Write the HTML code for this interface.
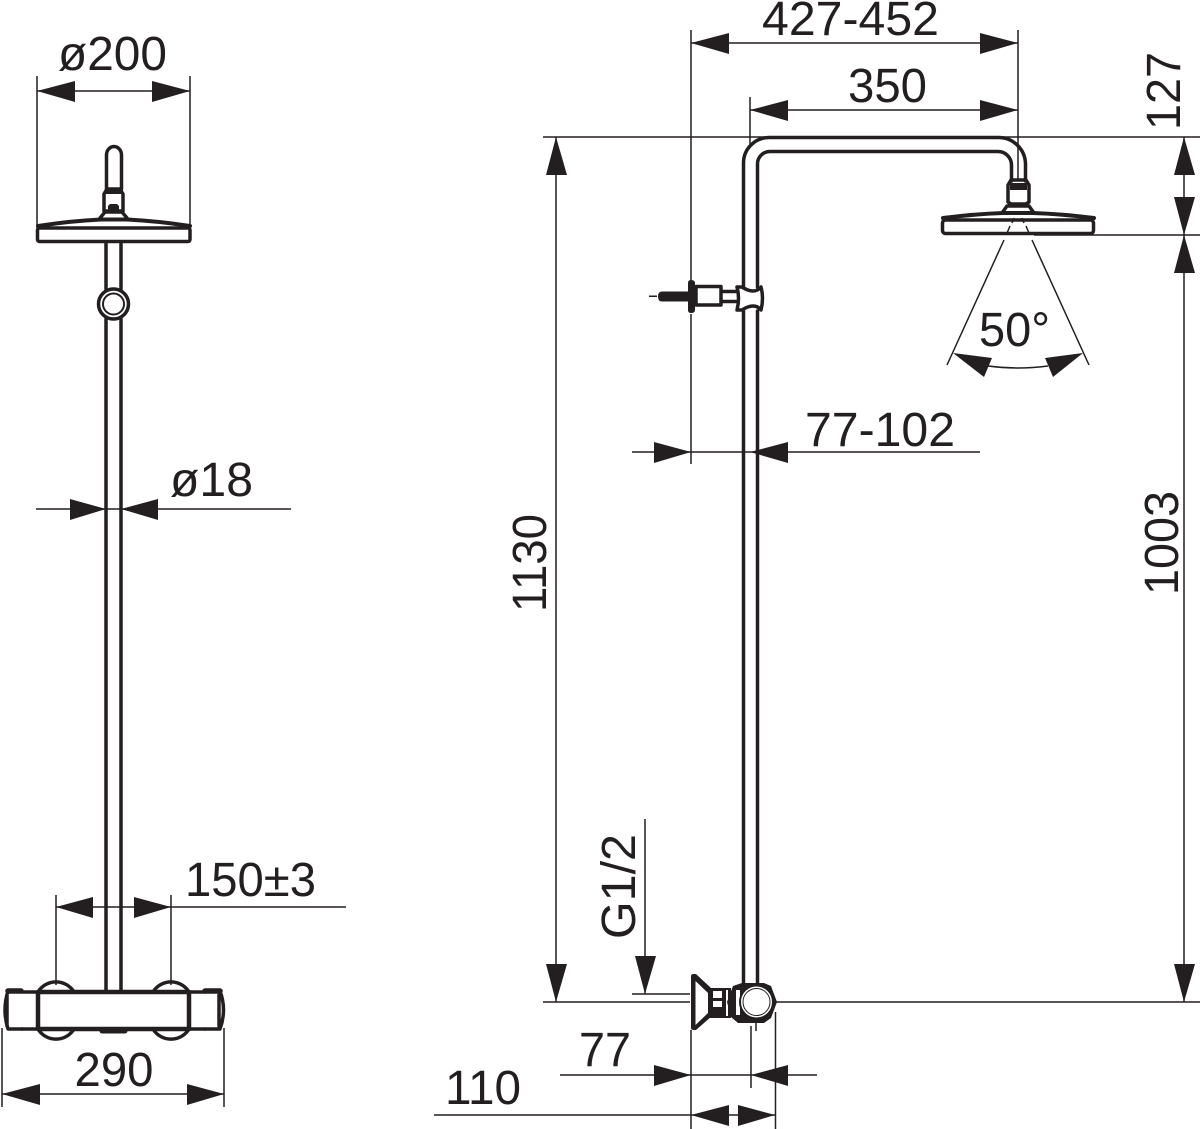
<!DOCTYPE html>
<html><head><meta charset="utf-8"><style>
html,body{margin:0;padding:0;background:#fff}
svg{display:block}
text{font-family:"Liberation Sans",sans-serif;font-size:48.500px;fill:#231f20}
.t{stroke:#231f20;stroke-width:1.500;fill:none}
.m{stroke:#231f20;stroke-width:3.500;fill:none;stroke-linejoin:round;stroke-linecap:round}
.k{fill:#231f20;stroke:none}
</style></head><body>
<svg width="1200" height="1129" viewBox="0 0 1200 1129" xmlns="http://www.w3.org/2000/svg">
<!-- LEFT VIEW dims -->
<g class="t">
<path d="M37 76V228M190 76V228M37 91H190"/>
<path d="M36 509H291"/>
<path d="M56 895V985M171 895V985M56 907H346"/>
<path d="M2 1028V1107M224 1028V1107M2 1094H224"/>
</g>
<g class="k">
<polygon points="37,91 75,81 75,102"/><polygon points="190,91 152,81 152,102"/>
<polygon points="106,509 70,499 70,520"/><polygon points="121,509 158,499 158,520"/>
<polygon points="56,907 93,897 93,918"/><polygon points="171,907 134,897 134,918"/>
<polygon points="2,1094 40,1084 40,1105"/><polygon points="224,1094 187,1084 187,1105"/>
</g>
<text x="58" y="70" textLength="109" lengthAdjust="spacingAndGlyphs">ø200</text>
<text x="170" y="496" textLength="83" lengthAdjust="spacingAndGlyphs">ø18</text>
<text x="185" y="896" textLength="131" lengthAdjust="spacingAndGlyphs">150±3</text>
<text x="74.500" y="1086" textLength="79" lengthAdjust="spacingAndGlyphs">290</text>
<!-- LEFT VIEW fixture -->
<g class="m">
<path d="M106.500 189V155a7.500 8.500 0 0 1 15 0V189"/>
<path d="M107 189H120L123 194V211H104V194Z"/>
<path d="M106 244V289M121 244V289M106 319V991M121 319V991"/>
<circle cx="113.500" cy="304" r="15"/>
<circle cx="113.500" cy="304" r="10.500" stroke-width="2"/>
<path d="M100 218L105 212H122L127 218"/>
<path d="M38 226Q70 221 101 219.500H126Q157 221 190 226" stroke-width="4"/>
<rect x="37.500" y="228" width="152.500" height="13.500" rx="2"/>
<!-- thermostat -->
<path d="M22 992H205M22 1029H205"/>
<rect x="38" y="992" width="151" height="37" stroke-width="4.500"/>
<path d="M38 992A21 21 0 0 1 74 992M153 992A21 21 0 0 1 189 992M38 1029A21 21 0 0 0 74 1029M153 1029A21 21 0 0 0 189 1029"/>
<path d="M8 991H21M205 991H220" stroke-width="5.500"/>
<path d="M8 991Q2 1010 8 1029H22M7 995V1026"/>
<path d="M220 991Q227 1010 220 1029H205M219 995V1026"/>
<path d="M102 1031H125" stroke-width="5"/>
</g>
<path class="k" d="M105 189H122V194H105ZM108 206L110 204H117L119 206V212H108Z"/>
<!-- RIGHT VIEW dims -->
<g class="t">
<path d="M691 30V282M691 314V464M691 1030V1129M1018 30V180M691 43H1018"/>
<path d="M750 97V145M750 110H1018"/>
<path d="M543 137H1200M1034 235H1200"/>
<path d="M556 137V1002M1184 137V1002"/>
<path d="M543 1002H690M632 994H690M775 1002H1200"/>
<path d="M645 819V994"/>
<path d="M632 452H980"/>
<path d="M560 1075H817M434 1115H776"/>
<path d="M751 1026V1088M775.500 1012V1129"/>
<path d="M1004 240L947 365M1032 240L1089 365M1010 226L1007 233M1026 226L1029 233M1014 218L1012 223M1022 218L1024 223"/>
<path d="M988 366Q1018 370 1048 366"/>
</g>
<g class="k">
<polygon points="691,43 729,33 729,54"/><polygon points="1018,43 980,33 980,54"/>
<polygon points="750,110 788,100 788,121"/><polygon points="1018,110 980,100 980,121"/>
<polygon points="556,137 546,175 567,175"/><polygon points="556,1002 546,964 567,964"/>
<polygon points="1184,137 1174,175 1195,175"/><polygon points="1184,235 1174,197 1195,197"/>
<polygon points="1184,235 1174,273 1195,273"/><polygon points="1184,1002 1174,964 1195,964"/>
<polygon points="691,452 654,442 654,463"/><polygon points="750,452 788,442 788,463"/>
<polygon points="645,994 635,956 656,956"/>
<polygon points="691,1075 654,1065 654,1086"/><polygon points="751,1075 788,1065 788,1086"/>
<polygon points="691,1115 729,1105 729,1126"/><polygon points="775,1115 738,1105 738,1126"/>
<polygon points="953,353 992,358 984,377"/><polygon points="1083,353 1045,358 1053,377"/>
</g>
<text x="762" y="35" textLength="177" lengthAdjust="spacingAndGlyphs">427-452</text>
<text x="848" y="102" textLength="79" lengthAdjust="spacingAndGlyphs">350</text>
<text x="979" y="346" textLength="71" lengthAdjust="spacingAndGlyphs">50°</text>
<text x="805" y="446" textLength="150" lengthAdjust="spacingAndGlyphs">77-102</text>
<text x="579" y="1066" textLength="52" lengthAdjust="spacingAndGlyphs">77</text>
<text x="445" y="1104" textLength="76" lengthAdjust="spacingAndGlyphs">110</text>
<text transform="translate(1180,130) rotate(-90)" textLength="78" lengthAdjust="spacingAndGlyphs">127</text>
<text transform="translate(1178,595) rotate(-90)" textLength="104" lengthAdjust="spacingAndGlyphs">1003</text>
<text transform="translate(546,612) rotate(-90)" textLength="98" lengthAdjust="spacingAndGlyphs">1130</text>
<text transform="translate(635,939) rotate(-90)" textLength="105" lengthAdjust="spacingAndGlyphs">G1/2</text>
<!-- RIGHT VIEW fixture -->
<g class="m">
<path d="M743.500 287V163A25.500 25.500 0 0 1 769 137.500H998A27 27 0 0 1 1025.500 164V181"/>
<path d="M757.500 287V164A12.500 12.500 0 0 1 770 151.500H998A13.500 13.500 0 0 1 1011.500 165V181"/>
<path d="M743.500 311V986M757.500 311V986"/>
<path d="M1011 180H1026L1029 185V202L1026 204H1011L1008 202V185Z"/>
<path d="M1007 206L1002 213H1034L1029 206Z"/>
<path d="M943 218Q975 214 1003 213H1033Q1062 214 1094 218" stroke-width="4"/>
<rect x="942.500" y="220" width="151" height="13.500" rx="3"/>
<!-- bracket -->
<path d="M696 286.500H721V305H696Z"/>
<path d="M722 291.500H736M722 301.500H736"/>
<path d="M737 287H742Q748 291 753 291Q758 291 761 287Q764 298 761 310Q758 306 753 306Q748 306 742 310H737Q740 298 737 287Z"/>
</g>
<path class="k" d="M1010 183H1027V190H1010Z"/>
<path class="k" d="M649 295.500H657V297H649ZM662 291.500H688V283Q688 280 691 280Q695 280 695 283V310Q695 313 691 313Q688 313 688 310V301.500H662Q658 301.500 658 296.500Q658 291.500 662 291.500Z"/>
<!-- bottom valve -->
<path class="k" d="M691 976Q691 974 694 974H696L712 989V1016L696 1030H694Q691 1030 691 1028Z"/>
<path fill="#fff" d="M695.500 981L708 993V1013L695.500 1025Z"/>
<path class="k" d="M710 988H731V1018H710Z"/>
<path fill="#fff" d="M713 991H722V998H713ZM713 1001H722V1007H713ZM726 990H728V1016H726Z"/>
<path class="k" d="M733 986L742 983H764L771 986L777 1002L771 1018L764 1023H738L731 1017L727 1002Z"/>
<path fill="#fff" d="M736 990H740V1015H736Z"/>
<circle cx="756.500" cy="1002" r="16.500" fill="#fff" stroke="#231f20" stroke-width="2"/>
<circle cx="756.500" cy="1002" r="13.500" fill="#fff" stroke="#231f20" stroke-width="1"/>
<path class="t" d="M756 1023V1031"/>
</svg>
</body></html>
